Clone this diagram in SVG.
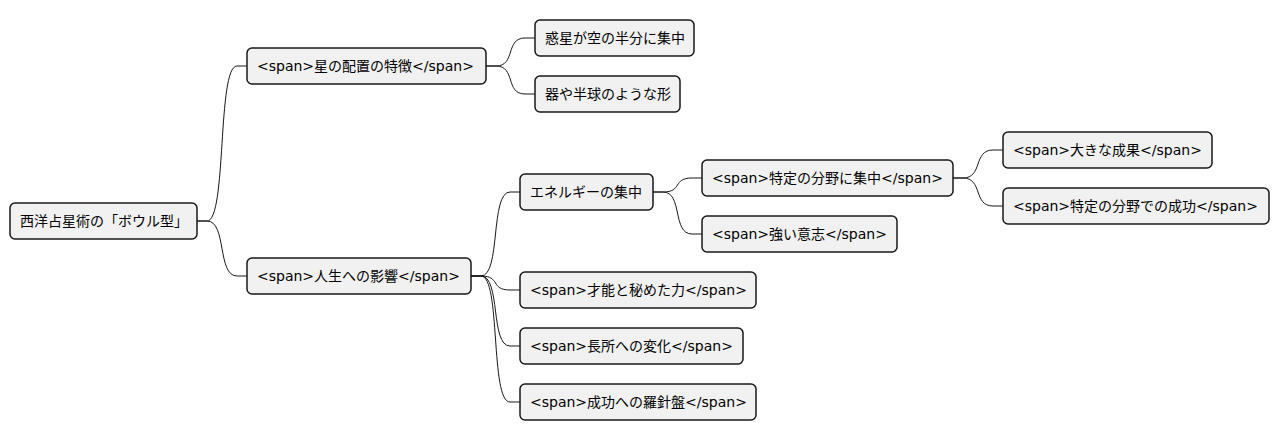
<svg xmlns="http://www.w3.org/2000/svg" width="1279" height="443" viewBox="0 0 1279 443">
<style>
.n rect{fill:#F1F1F1;stroke:#181818;stroke-width:1.5}
.n text{font-family:"DejaVu Sans","Noto Sans CJK JP",sans-serif;font-size:14px;fill:#000}
#c path{fill:none;stroke:#181818;stroke-width:1}
</style>
<rect width="1279" height="443" fill="#fff"/>
<g id="c">
<path d="M197,221 L207,221 C227,221 217,66 237,66 L247,66"/>
<path d="M197,221 L207,221 C227,221 217,276 237,276 L247,276"/>
<path d="M486,66 L496,66 C516,66 505,38 525,38 L535,38"/>
<path d="M486,66 L496,66 C516,66 505,94 525,94 L535,94"/>
<path d="M471,276 L481,276 C501,276 490,192 510,192 L520,192"/>
<path d="M471,276 L481,276 C501,276 490,290 510,290 L520,290"/>
<path d="M471,276 L481,276 C501,276 490,346 510,346 L520,346"/>
<path d="M471,276 L481,276 C501,276 490,402 510,402 L520,402"/>
<path d="M653,192 L663,192 C683,192 672,178 692,178 L702,178"/>
<path d="M653,192 L663,192 C683,192 672,234 692,234 L702,234"/>
<path d="M953,178 L963,178 C983,178 973,150 993,150 L1003,150"/>
<path d="M953,178 L963,178 C983,178 973,206 993,206 L1003,206"/>
</g>
<g id="root" class="n"><rect x="10" y="203" width="187" height="36" rx="5"/><text x="20" y="226">西洋占星術の「ボウル型」</text></g>
<g id="n1" class="n"><rect x="247" y="48" width="239" height="36" rx="5"/><text x="257" y="71">&lt;span&gt;星の配置の特徴&lt;/span&gt;</text></g>
<g id="n1a" class="n"><rect x="535" y="20" width="159" height="36" rx="5"/><text x="545" y="43">惑星が空の半分に集中</text></g>
<g id="n1b" class="n"><rect x="535" y="76" width="145" height="36" rx="5"/><text x="545" y="99">器や半球のような形</text></g>
<g id="n2" class="n"><rect x="247" y="258" width="224" height="36" rx="5"/><text x="257" y="281">&lt;span&gt;人生への影響&lt;/span&gt;</text></g>
<g id="n2a" class="n"><rect x="520" y="174" width="133" height="36" rx="5"/><text x="530" y="197">エネルギーの集中</text></g>
<g id="n2a1" class="n"><rect x="702" y="160" width="251" height="36" rx="5"/><text x="712" y="183">&lt;span&gt;特定の分野に集中&lt;/span&gt;</text></g>
<g id="n2a1a" class="n"><rect x="1003" y="132" width="209" height="36" rx="5"/><text x="1013" y="155">&lt;span&gt;大きな成果&lt;/span&gt;</text></g>
<g id="n2a1b" class="n"><rect x="1003" y="188" width="266" height="36" rx="5"/><text x="1013" y="211">&lt;span&gt;特定の分野での成功&lt;/span&gt;</text></g>
<g id="n2a2" class="n"><rect x="702" y="216" width="195" height="36" rx="5"/><text x="712" y="239">&lt;span&gt;強い意志&lt;/span&gt;</text></g>
<g id="n2b" class="n"><rect x="520" y="272" width="236" height="36" rx="5"/><text x="530" y="295">&lt;span&gt;才能と秘めた力&lt;/span&gt;</text></g>
<g id="n2c" class="n"><rect x="520" y="328" width="223" height="36" rx="5"/><text x="530" y="351">&lt;span&gt;長所への変化&lt;/span&gt;</text></g>
<g id="n2d" class="n"><rect x="520" y="384" width="236" height="36" rx="5"/><text x="530" y="407">&lt;span&gt;成功への羅針盤&lt;/span&gt;</text></g>
</svg>
